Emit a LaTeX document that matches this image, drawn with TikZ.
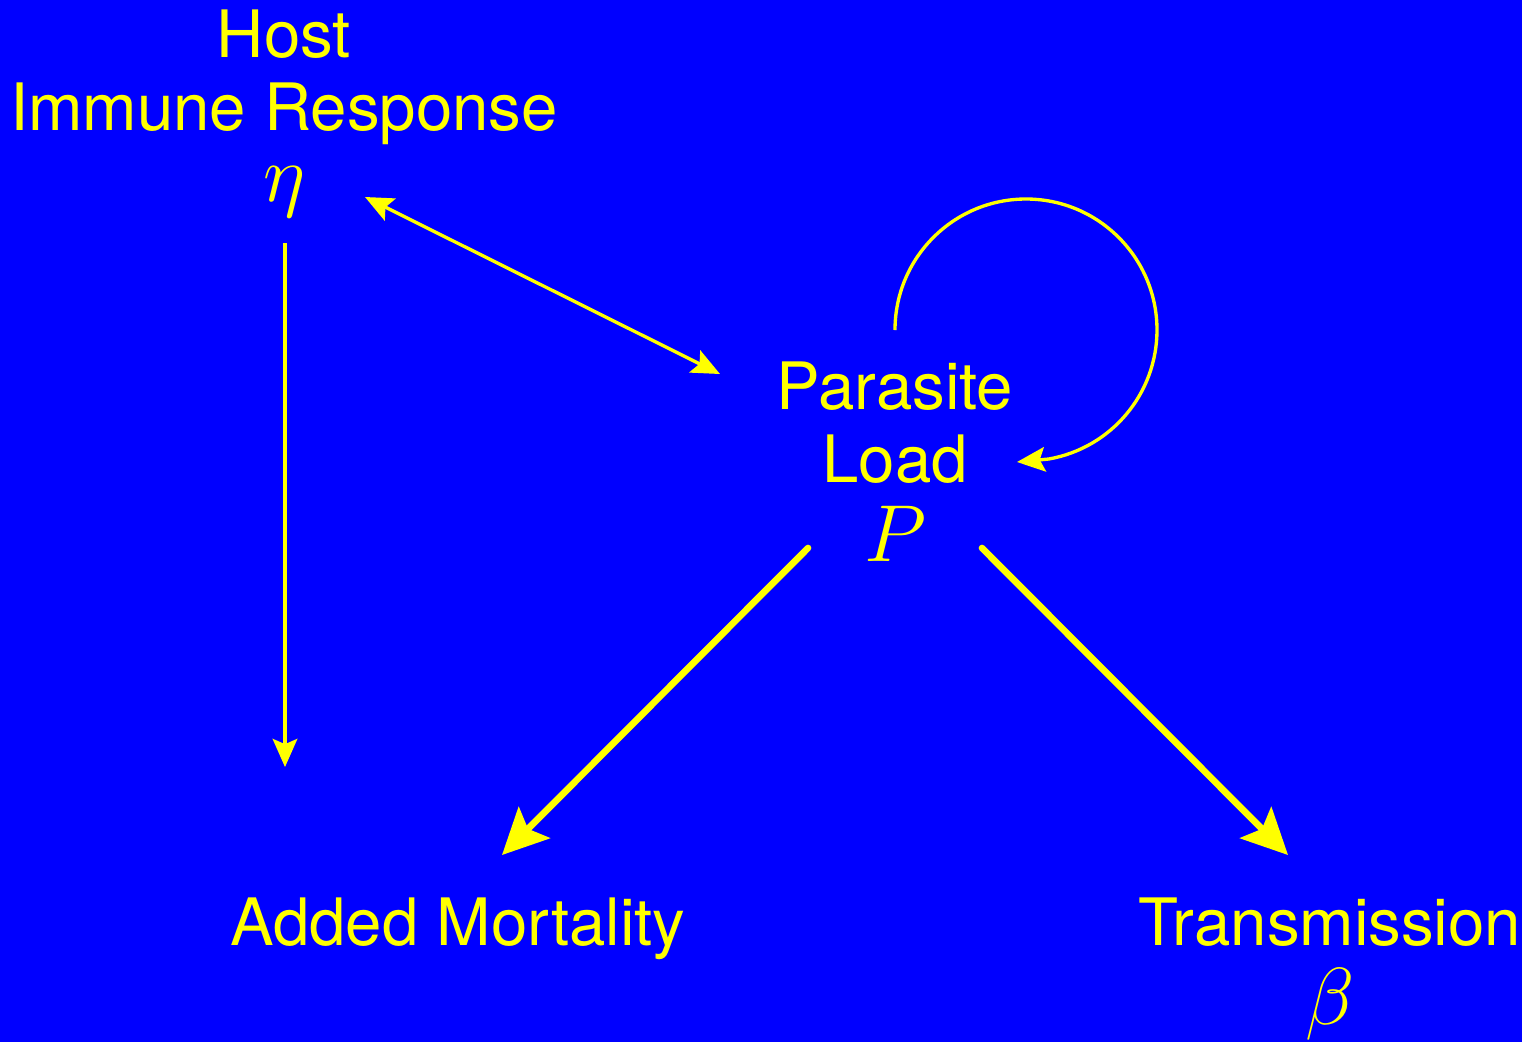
\RequirePackage{fix-cm}
\documentclass[tikz,border=0pt]{standalone}
\usepackage{fontspec}
\setmainfont{TeX Gyre Heros}
\usetikzlibrary{arrows.meta}
\definecolor{Bg}{HTML}{0000FF}
\definecolor{Fg}{HTML}{FFFF00}

\tikzset{
  lbl/.style={text=Fg,inner sep=0pt,align=center,anchor=base,
    font=\fontsize{37.2}{41}\selectfont},
  sym/.style={text=Fg,inner sep=0pt,anchor=base,
    font=\fontsize{46}{50}\selectfont},
  thintip/.tip={Stealth[length=16pt,width=14pt,inset=3pt]},
  thicktip/.tip={Stealth[length=26pt,width=25pt,inset=5pt]},
  thinlink/.style={draw=Fg,line width=1.9pt,-thintip},
  thicklink/.style={draw=Fg,line width=3.8pt,line cap=round,-thicktip}
}

\begin{document}
\begin{tikzpicture}[x=0.02cm,y=-0.02cm]
  \fill[Bg] (0,0) rectangle (1522,1042);

  % labels (base = last line)
  \node[lbl] (host) at (284,130) {Host\\Immune Response};
  \node[sym] (eta) at (284,201) {$\eta$};
  \node[lbl] (load) at (895,482) {Parasite\\Load};
  \node[sym] (P) at (895,561) {$P$};
  \node[lbl] (mort) at (458,945) {Added Mortality};
  \node[lbl] (trans) at (1330,945) {Transmission};
  \node[sym] (beta) at (1330,1024) {$\beta$};

  % connector ends
  \coordinate (etaDown) at (285,243);
  \coordinate (mortUp) at (285,767);
  \coordinate (etaSide) at (365,197);
  \coordinate (loadSide) at (720,374);
  \coordinate (loopStart) at (895,330);
  \coordinate (loopEnd) at (1017,462);
  \coordinate (pLeft) at (808,548);
  \coordinate (mortTip) at (502,855);
  \coordinate (pRight) at (982,548);
  \coordinate (transTip) at (1288,855);

  \draw[thinlink] (etaDown) -- (mortUp);
  \draw[thinlink,thintip-thintip] (etaSide) -- (loadSide);
  \draw[thinlink] (loopStart) arc[start angle=180,end angle=440,radius=131] -- (loopEnd);
  \draw[thicklink] (pLeft) -- (mortTip);
  \draw[thicklink] (pRight) -- (transTip);
\end{tikzpicture}
\end{document}
